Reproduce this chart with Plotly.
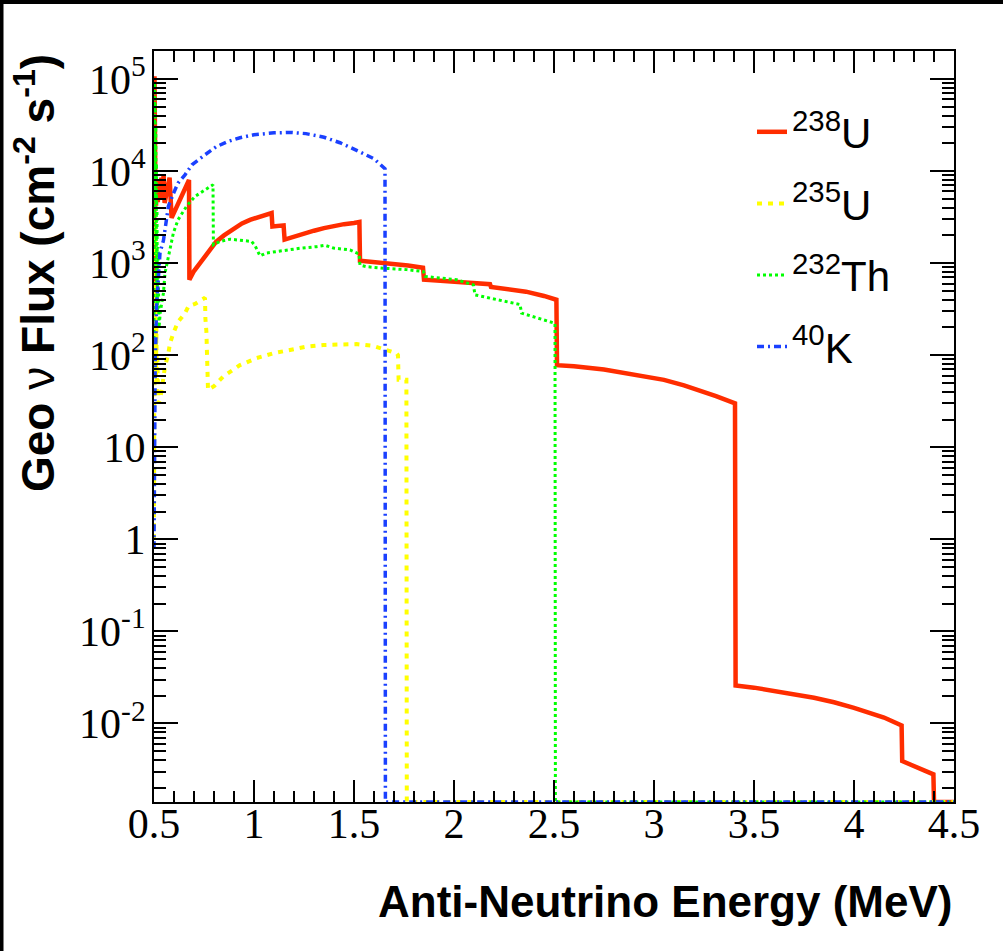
import numpy as np
import plotly.graph_objects as go

# ---------------- data: geo-neutrino flux spectra ----------------
# energies in MeV, flux in cm^-2 s^-1 (0 = no flux above the endpoint)
U238_E = [0.5000, 0.5025, 0.5045, 0.507, 0.510, 0.514, 0.519, 0.524, 0.530, 0.537,
          0.543, 0.548, 0.553, 0.565, 0.578, 0.588, 0.630, 0.675, 0.677, 0.700,
          0.730, 0.770, 0.810, 0.850, 0.900, 0.940, 0.980, 1.020, 1.060, 1.088,
          1.092, 1.148, 1.153, 1.200, 1.250, 1.300, 1.350, 1.400, 1.450, 1.500,
          1.527, 1.530, 1.600, 1.680, 1.760, 1.770, 1.845, 1.850, 1.950, 2.050,
          2.150, 2.180, 2.185, 2.250, 2.360, 2.450, 2.512, 2.515, 2.600, 2.750,
          2.900, 2.980, 3.050, 3.150, 3.250, 3.310, 3.405, 3.408, 3.500, 3.650,
          3.800, 3.900, 4.000, 4.150, 4.238, 4.241, 4.320, 4.397, 4.400, 4.500]
U238_FLUX = [80, 1.07e5, 3000, 6500, 4200, 7000, 4600, 8000, 5000, 8500,
             5500, 9200, 4500, 6500, 8500, 3100, 5000, 8000, 660, 820,
             1000, 1330, 1700, 2000, 2400, 2700, 2950, 3150, 3350, 3500,
             2500, 2570, 1800, 1950, 2100, 2250, 2400, 2550, 2650, 2730,
             2800, 1060, 1030, 1000, 970, 940, 890, 660, 640, 620,
             600, 590, 550, 530, 490, 440, 400, 78, 76, 70,
             62, 58, 54, 47, 40, 36, 30, 0.0258, 0.0245, 0.0218,
             0.019, 0.017, 0.0148, 0.0116, 0.0095, 0.0039, 0.0033, 0.0028, 0, 0]

U235_E = [0.5000, 0.5025, 0.5040, 0.5055, 0.507, 0.5085, 0.510, 0.512, 0.514, 0.517,
          0.522, 0.530, 0.538, 0.547, 0.555, 0.572, 0.580, 0.597, 0.620, 0.655,
          0.672, 0.705, 0.730, 0.755, 0.757, 0.762, 0.770, 0.800, 0.847, 0.930,
          1.013, 1.097, 1.180, 1.263, 1.347, 1.430, 1.513, 1.597, 1.663, 1.713,
          1.720, 1.723, 1.762, 1.764, 4.500]
U235_FLUX = [1.0, 3000, 300, 1500, 120, 600, 60, 200, 40, 90,
             30, 33, 42, 56, 75, 105, 135, 174, 230, 286,
             340, 360, 385, 420, 250, 180, 42, 46, 59, 78,
             93, 105, 114, 124, 129, 132, 132, 126, 115, 105,
             100, 54, 54, 0, 0]

TH232_E = [0.5000, 0.5030, 0.5045, 0.5060, 0.5075, 0.509, 0.5105, 0.512, 0.5135, 0.515,
           0.517, 0.520, 0.525, 0.532, 0.540, 0.547, 0.555, 0.572, 0.597, 0.620,
           0.663, 0.705, 0.755, 0.795, 0.797, 0.830, 0.880, 0.930, 0.988, 1.005,
           1.020, 1.030, 1.063, 1.147, 1.230, 1.313, 1.355, 1.397, 1.480, 1.513,
           1.525, 1.530, 1.563, 1.647, 1.763, 1.847, 1.855, 2.013, 2.097, 2.105,
           2.263, 2.330, 2.338, 2.430, 2.505, 2.507, 4.500]
TH232_FLUX = [150, 9e4, 2e4, 6e4, 5000, 3e4, 1500, 1.2e4, 600, 4000,
              300, 1500, 200, 300, 380, 470, 780, 1170, 2130, 2950,
              4150, 5300, 6300, 7100, 1580, 1720, 1820, 1780, 1720, 1550,
              1340, 1200, 1290, 1370, 1450, 1510, 1560, 1460, 1390, 1290,
              1260, 950, 915, 880, 850, 810, 716, 660, 580, 452,
              380, 355, 286, 250, 222, 0, 0]

K40_E = [0.5000, 0.5020, 0.504, 0.506, 0.509, 0.513, 0.520, 0.530, 0.547, 0.563,
         0.572, 0.597, 0.620, 0.655, 0.690, 0.755, 0.810, 0.870, 0.930, 1.000,
         1.100, 1.180, 1.260, 1.350, 1.430, 1.520, 1.600, 1.655, 1.657, 4.500]
K40_FLUX = [0.8, 8, 40, 85, 140, 380, 600, 1300, 1750, 3300,
            4150, 5700, 7400, 9100, 11700, 15000, 18300, 21000, 23000, 24800,
            26000, 26300, 25500, 23300, 20300, 16500, 13600, 10600, 0, 0]

SERIES = ["<sup>238</sup>U", "<sup>235</sup>U", "<sup>232</sup>Th", "<sup>40</sup>K"]

X_TICKS = [0.5, 1, 1.5, 2, 2.5, 3, 3.5, 4, 4.5]
X_TICK_TEXT = ["0.5", "1", "1.5", "2", "2.5", "3", "3.5", "4", "4.5"]
Y_TICKS = [1e-2, 1e-1, 1, 10, 1e2, 1e3, 1e4, 1e5]
Y_TICK_TEXT = ["10<sup>-2</sup>", "10<sup>-1</sup>", "1", "10",
               "10<sup>2</sup>", "10<sup>3</sup>", "10<sup>4</sup>", "10<sup>5</sup>"]

X_TITLE = "Anti-Neutrino Energy (MeV)"
Y_TITLE = "<b>Geo</b> ν <b>Flux (cm<sup>-2</sup> s<sup>-1</sup>)</b>"

# ---------------- layout constants ----------------
W, H = 1003, 951
ML, MR, MT, MB = 154, 49, 51, 149
PW, PH = W - ML - MR, H - MT - MB
X_RANGE = [0.5, 4.5]
Y_LOG_RANGE = [-2.853, 5.304]
Y_FLOOR = 10 ** Y_LOG_RANGE[0]   # empty bins sit on the bottom of the frame


def px_x(p):
    return (p - ML) / PW


def px_y(p):
    return (H - MB - p) / PH


def floored(vals):
    v = np.asarray(vals, dtype=float)
    return np.where(v > 0, v, Y_FLOOR)


styles = [
    dict(color="#ff2d00", width=4.5, dash="solid"),
    dict(color="#ffff00", width=4, dash="5px,6px"),
    dict(color="#00ff00", width=3, dash="3px,3px"),
    dict(color="#1a40ff", width=3.5, dash="7px,4px,2px,4px"),
]
datasets = [(U238_E, U238_FLUX), (U235_E, U235_FLUX), (TH232_E, TH232_FLUX), (K40_E, K40_FLUX)]

fig = go.Figure()
for name, (e, f), st in zip(SERIES, datasets, styles):
    fig.add_trace(go.Scatter(
        x=e, y=floored(f), mode="lines", name=name, legendgroup=name,
        line=dict(color=st["color"], width=st["width"], dash=st["dash"]),
    ))

tick_font = dict(family="Liberation Serif", size=42, color="black")

fig.update_xaxes(
    range=X_RANGE, tickmode="array", tickvals=X_TICKS, ticktext=X_TICK_TEXT,
    ticks="inside", ticklen=22, tickwidth=1.5, tickcolor="black",
    minor=dict(ticks="inside", ticklen=11, tickwidth=1.5, tickcolor="black",
               dtick=0.1, tick0=0.5),
    showline=True, linewidth=2, linecolor="black", mirror="allticks",
    showgrid=False, zeroline=False, tickfont=tick_font, ticklabelstandoff=-16,
)
fig.update_yaxes(
    type="log", range=Y_LOG_RANGE, tickmode="array", tickvals=Y_TICKS, ticktext=Y_TICK_TEXT,
    ticks="inside", ticklen=24, tickwidth=1.5, tickcolor="black",
    minor=dict(ticks="inside", ticklen=12, tickwidth=1.5, tickcolor="black", dtick="D1"),
    showline=True, linewidth=2, linecolor="black", mirror="allticks",
    showgrid=False, zeroline=False, tickfont=tick_font, ticklabelstandoff=-2,
)

fig.update_layout(
    width=W, height=H,
    margin=dict(l=ML, r=MR, t=MT, b=MB),
    paper_bgcolor="white", plot_bgcolor="white",
    showlegend=True,
    legend=dict(x=px_x(752), y=px_y(98), xanchor="left", yanchor="top",
                bgcolor="rgba(0,0,0,0)", tracegroupgap=14,
                font=dict(family="Liberation Sans", size=42, color="black")),
    annotations=[
        dict(text=X_TITLE, xref="paper", yref="paper", x=px_x(954), y=px_y(902),
             xanchor="right", yanchor="middle", showarrow=False,
             font=dict(family="Liberation Sans", size=44, color="black", weight="bold")),
        dict(text=Y_TITLE, xref="paper", yref="paper", x=px_x(35), y=px_y(52),
             xanchor="center", yanchor="top", textangle=-90, showarrow=False,
             font=dict(family="Liberation Sans", size=46, color="black")),
    ],
    shapes=[
        # black frame strips along the left and top edges of the canvas
        dict(type="rect", xref="paper", yref="paper", x0=px_x(0), x1=px_x(3.5),
             y0=px_y(H), y1=px_y(0), fillcolor="black", line=dict(width=0), layer="above"),
        dict(type="rect", xref="paper", yref="paper", x0=px_x(0), x1=px_x(W),
             y0=px_y(4), y1=px_y(0), fillcolor="black", line=dict(width=0), layer="above"),
    ],
)

fig.write_html("out.html")
